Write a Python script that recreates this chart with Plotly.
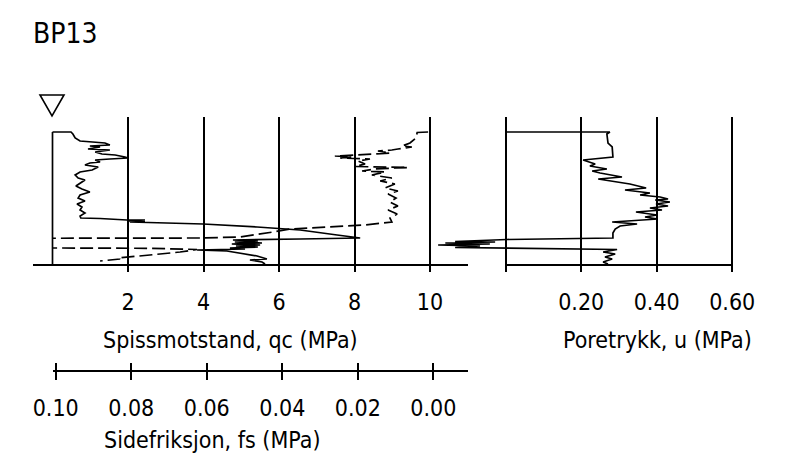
import plotly.graph_objects as go

W, H = 795, 464
FONT = "DejaVu Sans Condensed, Liberation Sans Narrow, Roboto, sans-serif"

# ---------------- data ----------------
depth_max = 13.3  # m, bottom of sounding

qc_depth = [0.0, 0.0, 0.2, 0.6, 0.9, 1.0, 1.1, 1.3, 1.4, 1.5, 1.7, 1.8, 2.0, 2.2, 2.3, 2.5, 2.6,
            2.7, 2.8, 3.0, 3.1, 3.3, 3.5, 3.8, 4.0, 4.3, 4.6, 4.8, 5.1, 5.4, 5.7, 6.0, 6.3, 6.6,
            6.9, 7.2, 7.5, 7.8, 8.1, 8.4, 8.6, 8.65, 8.8, 8.8, 8.9, 8.95, 9.0, 9.05, 9.2, 9.5,
            9.8, 10.3, 10.6, 10.7, 10.75, 10.8, 10.9, 11.0, 11.1, 11.2, 11.3, 11.4, 11.5, 11.6,
            11.7, 11.8, 11.9, 12.4, 12.7, 12.8, 13.0, 13.2]
qc_values = [0.00, 0.49, 0.54, 0.60, 0.73, 1.13, 1.39, 1.52, 0.99, 1.26, 0.94, 1.52, 1.13, 1.31,
             1.66, 1.92, 2.00, 1.52, 1.13, 1.26, 0.99, 0.86, 1.21, 1.05, 0.73, 0.60, 0.68, 0.86,
             0.73, 0.62, 0.78, 0.99, 0.73, 0.68, 0.86, 0.65, 0.78, 0.73, 0.86, 0.73, 0.75, 1.26,
             1.97, 2.45, 2.00, 2.45, 2.05, 2.45, 3.99, 5.42, 6.56, 7.54, 8.15, 6.56, 5.50, 4.78,
             5.44, 4.83, 5.55, 4.75, 5.50, 4.86, 5.44, 4.70, 5.10, 3.83, 4.62, 5.42, 5.68, 5.23,
             5.55, 5.63]

fs_depth = [0.0, 0.05, 0.6, 1.1, 1.4, 1.5, 1.7, 1.8, 1.9, 2.1, 2.2, 2.3, 2.4, 2.5, 2.6, 2.7,
            2.9, 3.2, 3.45, 3.55, 3.7, 3.9, 4.0, 4.3, 4.6, 4.9, 5.2, 5.6, 5.9, 6.2, 6.6, 7.0,
            7.4, 7.8, 8.2, 8.6, 9.0, 9.3, 9.5, 9.7, 10.0, 10.3, 10.5, 10.6, 10.61, 10.62, 10.65,
            11.55, 11.58, 11.63, 11.75, 12.0, 12.3, 12.5, 12.6, 12.7, 12.8, 12.9]
fs_values = [0.0005, 0.0034, 0.0037, 0.0053, 0.0074, 0.0048, 0.0085, 0.0101, 0.0138, 0.0106,
             0.0146, 0.0185, 0.0252, 0.0207, 0.0238, 0.0159, 0.0191, 0.0172, 0.0199, 0.0058,
             0.0146, 0.0180, 0.0119, 0.0154, 0.0101, 0.0132, 0.0093, 0.0119, 0.0085, 0.0111,
             0.0090, 0.0106, 0.0085, 0.0111, 0.0087, 0.0106, 0.0101, 0.0172, 0.0265, 0.0371,
             0.0416, 0.0464, 0.0503, 0.0609, 0.0821, 0.1000, 0.1400, 0.1400, 0.1000, 0.0742,
             0.0617, 0.0662, 0.0742, 0.0803, 0.0826, 0.0821, 0.0861, 0.0874]

u_depth = [0.0, 0.0, 0.2, 1.1, 1.5, 2.5, 2.8, 3.2, 3.4, 3.7, 3.9, 4.1, 4.5, 4.7, 5.2, 5.6, 5.8,
           6.1, 6.3, 6.5, 6.7, 6.8, 7.0, 7.2, 7.4, 7.6, 7.8, 8.0, 8.3, 8.5, 8.7, 9.0, 9.2, 9.4,
           9.7, 10.1, 10.6, 10.75, 10.95, 11.0, 11.1, 11.2, 11.3, 11.4, 11.55, 11.75, 12.0,
           12.2, 12.5, 12.7, 13.0, 13.2]
u_values = [0.000, 0.276, 0.268, 0.271, 0.282, 0.284, 0.205, 0.237, 0.223, 0.268, 0.229, 0.250,
            0.308, 0.245, 0.329, 0.372, 0.316, 0.382, 0.356, 0.409, 0.430, 0.396, 0.435, 0.398,
            0.430, 0.382, 0.414, 0.345, 0.401, 0.369, 0.403, 0.282, 0.348, 0.303, 0.290, 0.284,
            0.284, 0.003, -0.134, -0.028, -0.160, -0.042, -0.179, -0.068, -0.134, 0.295, 0.258,
            0.290, 0.263, 0.282, 0.258, 0.271]

qc_ticks = [2, 4, 6, 8, 10]
u_ticks = [0.0, 0.2, 0.4, 0.6]
u_ticktext = ["", "0.20", "0.40", "0.60"]
fs_ticks = [0.10, 0.08, 0.06, 0.04, 0.02, 0.00]
fs_ticktext = ["0.10", "0.08", "0.06", "0.04", "0.02", "0.00"]

title_text = "BP13"
qc_title = "Spissmotstand, qc (MPa)"
u_title = "Poretrykk, u (MPa)"
fs_title = "Sidefriksjon, fs (MPa)"

# ---------------- layout helpers ----------------
PAGE_OFF = 8  # the page body margin shifts the figure by this many pixels


def px(x):
    return (x - PAGE_OFF) / W


def py(y):
    return 1 - (y - PAGE_OFF) / H


LINE = dict(color="black", width=1.7)

fig = go.Figure()
fig.add_trace(go.Scatter(x=qc_values, y=qc_depth, mode="lines", line=LINE,
                         xaxis="x", yaxis="y", showlegend=False, hoverinfo="skip"))
fig.add_trace(go.Scatter(x=fs_values, y=fs_depth, mode="lines",
                         line=dict(color="black", width=1.7, dash="13px,5px"),
                         xaxis="x3", yaxis="y3", showlegend=False, hoverinfo="skip"))
fig.add_trace(go.Scatter(x=u_values, y=u_depth, mode="lines", line=LINE,
                         xaxis="x2", yaxis="y2", showlegend=False, hoverinfo="skip"))
# empty traces to host the separate fs scale
fig.add_trace(go.Scatter(x=[], y=[], xaxis="x4", yaxis="y4", showlegend=False))
fig.add_trace(go.Scatter(x=[], y=[], xaxis="x5", yaxis="y4", showlegend=False))

ydom = [py(272), py(117)]
yrange = [14.0, -1.5]
tickfont = dict(family=FONT, size=23, color="black")
GRID = dict(showgrid=True, gridcolor="black", gridwidth=1.6, zeroline=False,
            showline=False, ticks="", tickfont=tickfont, ticklabelstandoff=14)

fig.update_layout(
    width=W, height=H, margin=dict(l=0, r=0, t=0, b=0, autoexpand=False),
    paper_bgcolor="white", plot_bgcolor="rgba(0,0,0,0)", showlegend=False,
    font=dict(family=FONT, color="black"),
    xaxis=dict(domain=[px(33), px(468)], range=[-0.5166, 11.0066],
               tickvals=qc_ticks, ticktext=[str(t) for t in qc_ticks], anchor="y", **GRID),
    yaxis=dict(domain=ydom, range=yrange, visible=False, anchor="x"),
    xaxis2=dict(domain=[px(433), px(760)], range=[-0.1926, 0.6736],
                tickvals=u_ticks, ticktext=u_ticktext, anchor="y2", **GRID),
    yaxis2=dict(domain=ydom, range=yrange, visible=False, anchor="x2", matches="y"),
    xaxis3=dict(domain=[px(52.5), px(468)], range=[0.1, -0.010066], visible=False,
                anchor="y3"),
    yaxis3=dict(domain=ydom, range=yrange, visible=False, anchor="x3", matches="y"),
    xaxis4=dict(domain=[px(53.3), px(468.3)], range=[0.10064, -0.00927], anchor="y4",
                tickvals=fs_ticks, ticktext=fs_ticktext, showgrid=False, zeroline=False,
                showline=True, linecolor="black", linewidth=1.6, ticks="outside",
                ticklen=8, tickwidth=1.6, tickcolor="black", tickfont=tickfont,
                ticklabelstandoff=9),
    xaxis5=dict(domain=[px(53.3), px(468.3)], range=[0.10064, -0.00927], anchor="y4",
                overlaying="x4", tickvals=fs_ticks, showticklabels=False, showgrid=False,
                zeroline=False, showline=False, ticks="inside", ticklen=7, tickwidth=1.6,
                tickcolor="black"),
    yaxis4=dict(domain=[py(370), py(369)], range=[0, 1], visible=False, anchor="x4"),
)

# frame lines: baselines and qc=0 line
fig.add_shape(type="line", xref="x domain", yref="y", x0=0, x1=1, y0=depth_max, y1=depth_max,
              line=dict(color="black", width=2))
fig.add_shape(type="line", xref="x2", yref="y2", x0=0, x1=0.6, y0=depth_max, y1=depth_max,
              line=dict(color="black", width=2))
fig.add_shape(type="line", xref="x", yref="y", x0=0, x1=0, y0=0, y1=depth_max,
              line=dict(color="black", width=1.7))
# ground water symbol
fig.add_shape(type="path", xref="paper", yref="paper",
              path=f"M {px(40)},{py(95)} L {px(64)},{py(95)} L {px(52)},{py(116)} Z",
              line=dict(color="black", width=1.6))

ann_font = dict(family=FONT, size=23, color="black")
fig.add_annotation(text=title_text, xref="paper", yref="paper", x=px(31), y=py(33),
                   xanchor="left", yanchor="middle", showarrow=False,
                   font=dict(family=FONT, size=28, color="black"))
fig.add_annotation(text=qc_title, xref="paper", yref="paper", x=px(230), y=py(340),
                   xanchor="center", yanchor="middle", showarrow=False, font=ann_font)
fig.add_annotation(text=u_title, xref="paper", yref="paper", x=px(657), y=py(340),
                   xanchor="center", yanchor="middle", showarrow=False, font=ann_font)
fig.add_annotation(text=fs_title, xref="paper", yref="paper", x=px(212), y=py(440),
                   xanchor="center", yanchor="middle", showarrow=False, font=ann_font)

fig.write_html("out.html")
